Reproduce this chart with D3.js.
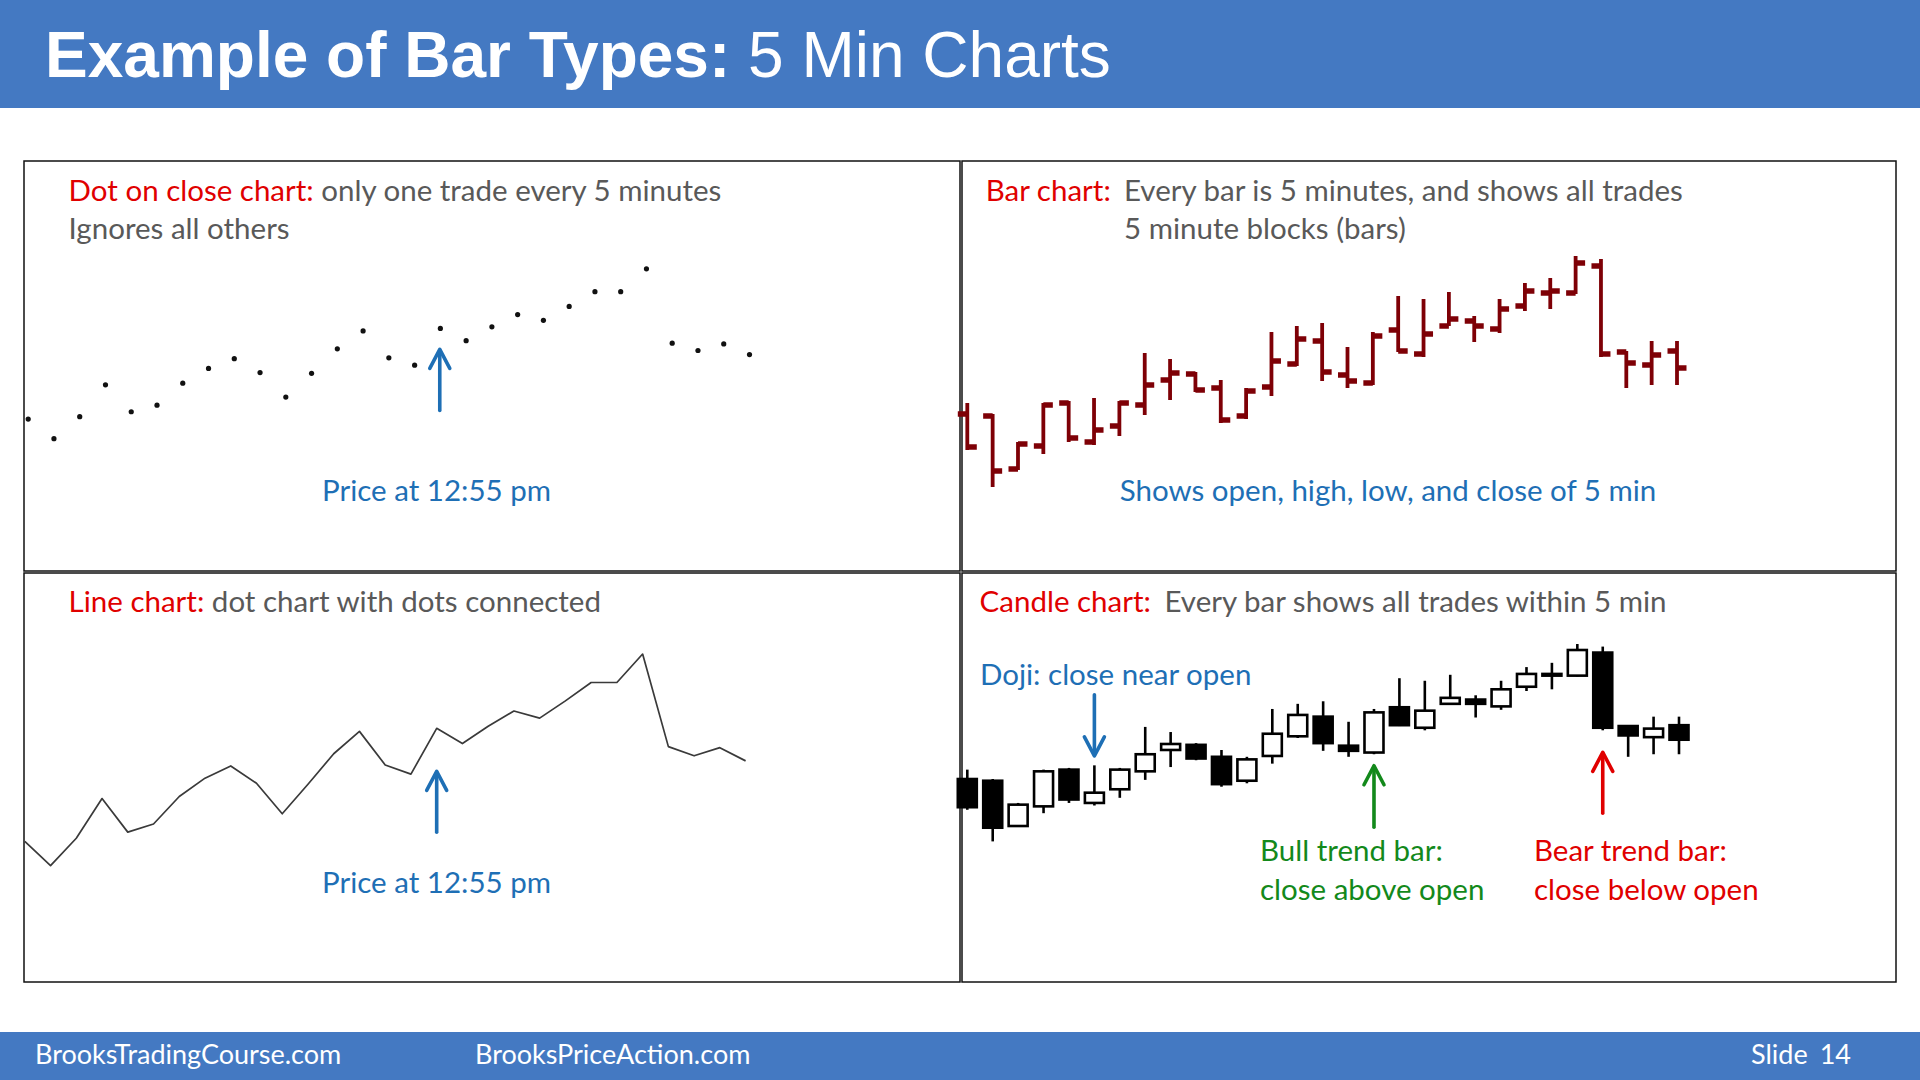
<!DOCTYPE html>
<html><head><meta charset="utf-8">
<script src="https://cdn.jsdelivr.net/npm/d3@7"></script>
<style>
html,body{margin:0;padding:0;background:#fff;}
svg{display:block;}
.body-text{font-family:Lato,"Open Sans",sans-serif;}
</style></head><body>
<svg id="chart" width="1920" height="1080"></svg>
<script>
// ---- data (one 5-min session) ----
const times = ["11:35","11:40","11:45","11:50","11:55","12:00","12:05","12:10","12:15","12:20",
  "12:25","12:30","12:35","12:40","12:45","12:50","12:55","13:00","13:05","13:10",
  "13:15","13:20","13:25","13:30","13:35","13:40","13:45","13:50","13:55"];
const openP  = [86, 84, 31, 54, 97, 58, 74, 95,120,126,112, 84,113,136,159,125,117,170,146,174,179,171,194,207,207,234,148,135,149];
const highP  = [97, 86, 58, 97, 99,102, 99,147,141,128,120,112,168,174,177,153,168,204,201,208,184,201,217,222,244,241,149,159,159];
const lowP   = [50, 13, 30, 46, 58, 55, 64, 85,100,108, 77, 81,104,134,119,112,115,148,143,174,158,167,189,191,206,143,112,115,115];
const closeP = [53, 29, 56, 95, 62, 70, 97,115,127,110, 80,109,139,161,128,119,164,149,166,181,174,191,209,209,237,146,137,145,132];
const markedTime = "12:55";
const dojiTime = "12:00";
const bullTime = "12:55";
const bearTime = "13:40";

const bars = times.map((t,i)=>({t, o:openP[i], h:highP[i], l:lowP[i], c:closeP[i]}));

const BLUE_HDR = "#4479C2", RED = "#E00000", GRAY = "#595959", BLUE = "#1E6FB5", GREEN = "#13891B";
const FS = "29.5px";
const svg = d3.select("#chart");
svg.append("rect").attr("width",1920).attr("height",1080).attr("fill","#fff");

// header
svg.append("rect").attr("x",0).attr("y",0).attr("width",1920).attr("height",108).attr("fill",BLUE_HDR);
const title = svg.append("text").attr("x",45).attr("y",77).attr("fill","#fff")
  .style("font-family","'Liberation Sans',Arial,sans-serif").style("font-size","64px");
title.append("tspan").attr("font-weight","bold").text("Example of Bar Types:");
title.append("tspan").text(" 5 Min Charts");

// footer
svg.append("rect").attr("x",0).attr("y",1032).attr("width",1920).attr("height",48).attr("fill",BLUE_HDR);
const foot = svg.append("g").attr("class","body-text").attr("fill","#fff").style("font-size","27px");
foot.append("text").attr("x",35).attr("y",1064).text("BrooksTradingCourse.com");
foot.append("text").attr("x",475).attr("y",1064).text("BrooksPriceAction.com");
foot.append("text").attr("x",1751).attr("y",1064).text("Slide");
foot.append("text").attr("x",1851).attr("y",1064).attr("text-anchor","end").text("14");

// panels
const panels = [
  {x:24, y:161, w:936, h:410},
  {x:962, y:161, w:934, h:410},
  {x:24, y:573, w:936, h:409},
  {x:962, y:573, w:934, h:409}
];
svg.selectAll("rect.panel").data(panels).join("rect").attr("class","panel")
  .attr("x",d=>d.x).attr("y",d=>d.y).attr("width",d=>d.w).attr("height",d=>d.h)
  .attr("fill","none").attr("stroke","#111").attr("stroke-width",1.5);

function label(x, y, parts, anchor){
  const t = svg.append("text").attr("class","body-text").attr("x",x).attr("y",y+1.3)
    .style("font-size",FS).attr("text-anchor",anchor||"start");
  parts.forEach(p=>t.append("tspan").attr("fill",p[1]).text(p[0]));
  t.attr("xml:space","preserve");
  return t;
}
function arrow(x, yTip, yTail, color){
  const g = svg.append("g").attr("stroke",color).attr("stroke-width",3.6).attr("fill","none")
    .attr("stroke-linecap","round").attr("stroke-linejoin","round");
  const dir = yTail > yTip ? 1 : -1;
  g.append("line").attr("x1",x).attr("y1",yTail).attr("x2",x).attr("y2",yTip+dir*1);
  g.append("path").attr("d",`M${x-10},${yTip+dir*19} L${x},${yTip} L${x+10},${yTip+dir*19}`);
}

// ---- Panel 1: dot on close ----
const xDot = d3.scalePoint().domain(times).range([28.2, 749.5]);
const yDot = d3.scaleLinear().domain([0,250]).range([462.4, 258.2]);
svg.append("g").selectAll("circle").data(bars).join("circle")
  .attr("cx",d=>xDot(d.t)).attr("cy",d=>yDot(d.c)).attr("r",2.6).attr("fill","#111");
label(68.6, 200, [["Dot on close chart:",RED],[" only one trade every 5 minutes",GRAY]]);
label(68.6, 238, [["Ignores all others",GRAY]]);
arrow(xDot(markedTime)-0.6, yDot(closeP[times.indexOf(markedTime)])+21, yDot(closeP[times.indexOf(markedTime)])+82, BLUE);
label(436.5, 500, [["Price at 12:55 pm",BLUE]], "middle");

// ---- Panel 2: OHLC bars ----
const xBar = d3.scalePoint().domain(times).range([967.3, 1677]);
const yBar = d3.scaleLinear().domain([0,250]).range([500, 250]);
const BARC = "#7E0006";
const gb = svg.append("g").attr("stroke",BARC);
gb.selectAll("line.hl").data(bars).join("line").attr("class","hl")
  .attr("x1",d=>xBar(d.t)).attr("x2",d=>xBar(d.t))
  .attr("y1",d=>yBar(d.h)).attr("y2",d=>yBar(d.l)).attr("stroke-width",3.8);
gb.selectAll("line.op").data(bars).join("line").attr("class","op")
  .attr("x1",d=>xBar(d.t)-9.5).attr("x2",d=>xBar(d.t))
  .attr("y1",d=>yBar(d.o)).attr("y2",d=>yBar(d.o)).attr("stroke-width",5.5);
gb.selectAll("line.cl").data(bars).join("line").attr("class","cl")
  .attr("x1",d=>xBar(d.t)).attr("x2",d=>xBar(d.t)+9.5)
  .attr("y1",d=>yBar(d.c)).attr("y2",d=>yBar(d.c)).attr("stroke-width",5.5);
label(985.7, 200, [["Bar chart:",RED]]);
label(1124, 200, [["Every bar is 5 minutes, and shows all trades",GRAY]]);
label(1124, 238, [["5 minute blocks (bars)",GRAY]]);
label(1388, 500, [["Shows open, high, low, and close of 5 min",BLUE]], "middle");

// ---- Panel 3: line ----
const xLine = d3.scalePoint().domain(times).range([24.8, 745.6]);
const yLine = d3.scaleLinear().domain([0,250]).range([895.2, 640.8]);
svg.append("path").datum(bars)
  .attr("d", d3.line().x(d=>xLine(d.t)).y(d=>yLine(d.c)))
  .attr("fill","none").attr("stroke","#3a3a3a").attr("stroke-width",1.7).attr("stroke-linejoin","round");
label(68.6, 611, [["Line chart:",RED],[" dot chart with dots connected",GRAY]]);
arrow(xLine(markedTime), yLine(closeP[times.indexOf(markedTime)])+43, yLine(closeP[times.indexOf(markedTime)])+104, BLUE);
label(436.5, 892, [["Price at 12:55 pm",BLUE]], "middle");

// ---- Panel 4: candles ----
const xC = d3.scalePoint().domain(times).range([967.3, 1679]);
const yC = d3.scaleLinear().domain([0,250]).range([852.5, 638.9]);
const BW = 19;
const gc = svg.append("g").attr("stroke","#000");
gc.selectAll("line").data(bars).join("line")
  .attr("x1",d=>xC(d.t)).attr("x2",d=>xC(d.t))
  .attr("y1",d=>yC(d.h)).attr("y2",d=>yC(d.l)).attr("stroke-width",2.6);
gc.selectAll("rect").data(bars).join("rect")
  .attr("x",d=>xC(d.t)-BW/2).attr("width",BW)
  .attr("y",d=>yC(Math.max(d.o,d.c)))
  .attr("height",d=>Math.max(0.01, Math.abs(yC(d.o)-yC(d.c))))
  .attr("fill",d=>d.c>=d.o?"#fff":"#000").attr("stroke-width",2.6);
label(979.6, 611, [["Candle chart:",RED]]);
label(1164.5, 611, [["Every bar shows all trades within 5 min",GRAY]]);
label(980, 684, [["Doji: close near open",BLUE]]);
const bD = bars[times.indexOf(dojiTime)], bB = bars[times.indexOf(bullTime)], bR = bars[times.indexOf(bearTime)];
arrow(xC(dojiTime), yC(bD.h)-9.5, yC(bD.h)-70.5, BLUE);
arrow(xC(bullTime), yC(bB.l)+11.5, yC(bB.l)+73, GREEN);
arrow(xC(bearTime), yC(bR.l)+22, yC(bR.l)+83, RED);
label(1260, 860, [["Bull trend bar:",GREEN]]);
label(1260, 899, [["close above open",GREEN]]);
label(1534, 860, [["Bear trend bar:",RED]]);
label(1534, 899, [["close below open",RED]]);
</script>
</body></html>
